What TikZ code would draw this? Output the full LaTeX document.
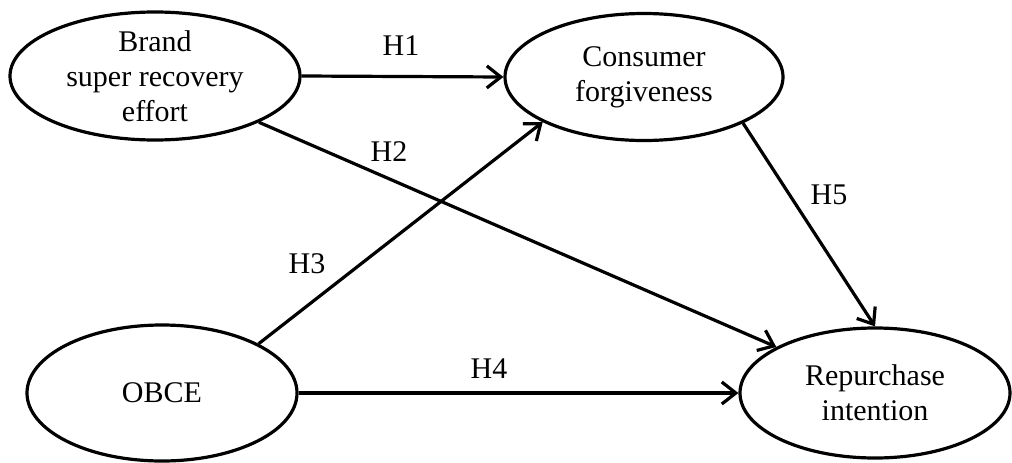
\documentclass[tikz,border=0pt]{standalone}
\usepackage{fontspec}
\setmainfont{Liberation Serif}
\usetikzlibrary{shapes.geometric,arrows.meta}
\begin{document}
\begin{tikzpicture}[x=1pt,y=-1pt,
  construct/.style={draw=black, line width=3.2pt, ellipse, inner sep=0pt, inner ysep=-8pt,
    align=center, font=\fontsize{30}{35}\selectfont},
  path/.style={draw=black, line width=3.2pt, -{Straight Barb[length=14pt,width=22pt,line width=3.2pt]}},
  hyp/.style={font=\fontsize{30}{35}\selectfont, inner sep=0pt}]
\useasboundingbox (0,0) rectangle (1012,463);
\node[construct, minimum width=290pt, minimum height=128pt] (bs) at (155,76) {Brand\\super recovery\\effort};
\node[construct, minimum width=278pt, minimum height=127pt] (cf) at (644,77) {Consumer\\forgiveness};
\node[construct, minimum width=270pt, minimum height=136pt] (ob) at (162,393) {OBCE};
\node[construct, minimum width=270pt, minimum height=130pt] (ri) at (875,393) {Repurchase\\intention};
\draw[path] (bs.east) -- (cf.west);
\draw[path] (bs.-24) -- (ri.155);
\draw[path] (ob.27) -- (cf.204);
\draw[path] (ob.east) -- (ri.west);
\draw[path] (cf.-25) -- (ri.north);
\node[hyp] (h1) at (401,46) {H1};
\node[hyp] (h2) at (389,152) {H2};
\node[hyp] (h3) at (307,264) {H3};
\node[hyp] (h4) at (489,369) {H4};
\node[hyp] (h5) at (829,195) {H5};
\end{tikzpicture}
\end{document}
